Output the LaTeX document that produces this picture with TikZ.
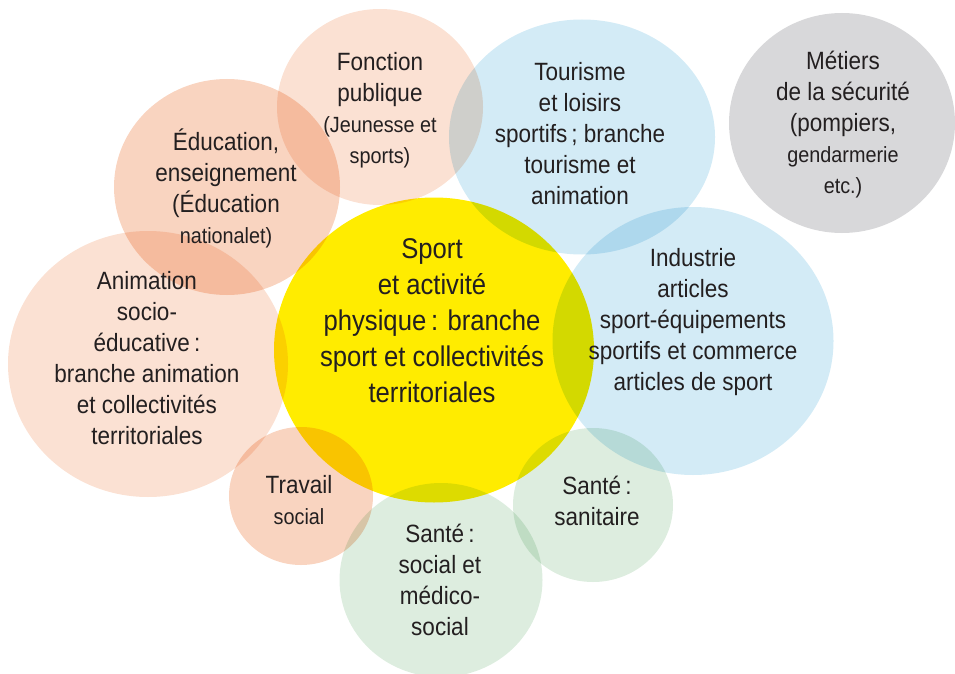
\documentclass[tikz,border=0pt]{standalone}
\usepackage{fontspec}
\setmainfont{Liberation Sans}[FakeStretch=0.9]
\usepackage{xcolor}
\usepackage{tikz}
\usetikzlibrary{shapes.geometric}

\definecolor{peche}{HTML}{FBE1D3}
\definecolor{pechefonce}{HTML}{F9D4C0}
\definecolor{ciel}{HTML}{D3EBF6}
\definecolor{gris}{HTML}{D8D8DA}
\definecolor{jaune}{HTML}{FFEC00}
\definecolor{vert}{HTML}{DDEDDF}
\definecolor{encre}{HTML}{231F20}

\newcommand{\petit}[1]{{\fontsize{22}{28}\selectfont #1}}

\begin{document}
\begin{tikzpicture}[x=1pt, y=-1pt,
		bulle/.style={ellipse, inner sep=0pt, draw=none},
		texte/.style={align=center, text=encre, font=\fontsize{25}{31}\selectfont}]
	\useasboundingbox (0,0) rectangle (955,674);

	% les bulles se multiplient entre elles
	\begin{scope}[blend mode=multiply]
		\node[bulle, fill=peche, minimum width=206pt, minimum height=196pt] (fonction) at (380,107) {};
		\node[bulle, fill=pechefonce, minimum width=226pt, minimum height=216pt] (educ) at (227,187) {};
		\node[bulle, fill=peche, minimum width=280pt, minimum height=266pt] (anim) at (148,364) {};
		\node[bulle, fill=pechefonce, minimum width=144pt, minimum height=138pt] (travail) at (301,496) {};
		\node[bulle, fill=ciel, minimum width=266pt, minimum height=235pt] (tourisme) at (582,137) {};
		\node[bulle, fill=ciel, minimum width=281pt, minimum height=268pt] (industrie) at (693,341) {};
		\node[bulle, fill=gris, minimum width=226pt, minimum height=220pt] (metiers) at (842,123) {};
		\node[bulle, fill=vert, minimum width=203pt, minimum height=194pt] (social) at (441,580) {};
		\node[bulle, fill=vert, minimum width=160pt, minimum height=154pt] (sanitaire) at (593,505) {};
		\node[bulle, fill=jaune, minimum width=320pt, minimum height=305pt] (sport) at (434,350) {};
	\end{scope}

	% textes
	\node[texte] (fonction-t) at (380,110) {Fonction\\publique\\\petit{(Jeunesse et}\\\petit{sports)}};
	\node[texte] (educ-t) at (226,188) {Éducation,\\enseignement\\(Éducation\\\petit{nationalet)}};
	\node[texte] (anim-t) at (147,358) {Animation\\socio-\\éducative\,:\\branche animation\\et collectivités\\territoriales};
	\node[texte] (travail-t) at (299,500) {Travail\\\petit{social}};
	\node[texte] (tourisme-t) at (580,134) {Tourisme\\et loisirs\\sportifs\,; branche\\tourisme et\\animation};
	\node[texte] (industrie-t) at (693,322) {Industrie\\articles\\sport-équipements\\sportifs et commerce\\articles de sport};
	\node[texte] (metiers-t) at (843,125) {Métiers\\de la sécurité\\(pompiers,\\\petit{gendarmerie}\\\petit{etc.)}};
	\node[texte] (social-t) at (440,580) {Santé\,:\\social et\\médico-\\social};
	\node[texte] (sanitaire-t) at (597,501) {Santé\,:\\sanitaire};
	\node[texte, font=\fontsize{28.5}{36}\selectfont] (sport-t) at (432,321) {Sport\\et activité\\physique\,: branche\\sport et collectivités\\territoriales};
\end{tikzpicture}
\end{document}
